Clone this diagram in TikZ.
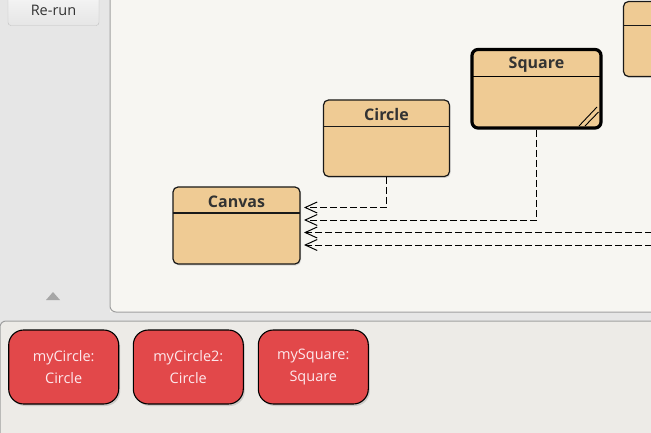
\documentclass[tikz,border=0pt]{standalone}
\usepackage{fontspec}
\setmainfont{Open Sans}
\usetikzlibrary{shadows,arrows.meta}
\definecolor{leftbg}{HTML}{E6E6E6}
\definecolor{canvasbg}{HTML}{F7F6F2}
\definecolor{bottombg}{HTML}{EDEBE7}
\definecolor{boxfill}{HTML}{EFCB94}
\definecolor{redfill}{HTML}{E2484A}
\definecolor{redtext}{HTML}{FDE8EC}
\definecolor{darktext}{HTML}{333333}
\definecolor{panelline}{HTML}{A0A0A0}
\tikzset{
  classbox/.style={draw=black!90, line width=1.2pt, fill=boxfill, rounded corners=5pt,
    drop shadow={shadow xshift=1pt, shadow yshift=-1.5pt, opacity=0.25}},
  selbox/.style={draw=black, line width=3.2pt, fill=boxfill, rounded corners=6pt,
    drop shadow={shadow xshift=1pt, shadow yshift=-1.5pt, opacity=0.25}},
  classtitle/.style={font=\bfseries\fontsize{16}{18}\selectfont, text=darktext},
  dep/.style={dash pattern=on 7pt off 3pt, line width=0.9pt,
    -{Straight Barb[length=12pt, width=11pt, line width=1pt]}},
  objbox/.style={draw=black, line width=1.1pt, fill=redfill, rounded corners=15pt,
    minimum width=110pt, minimum height=74pt, inner sep=0pt,
    text=redtext, align=center, font=\fontsize{14.5}{22}\selectfont,
    drop shadow={shadow xshift=1.5pt, shadow yshift=-2pt, opacity=0.3}},
}
\begin{document}
\begin{tikzpicture}[x=1pt, y=-1pt]
\useasboundingbox (0,0) rectangle (651,433);
% backgrounds
\fill[leftbg] (0,0) rectangle (651,433);
\fill[bottombg, draw=panelline, line width=1pt, rounded corners=6pt] (0,321) -- (0,440) -- (660,440) -- (660,321) -- cycle;
\fill[canvasbg] (110,-5) rectangle (660,312);
\draw[panelline, line width=1pt, rounded corners=6pt] (110,-5) -- (110,312) -- (660,312);
% Re-run button
\node[draw=black!25, rounded corners=3pt, minimum width=91pt, minimum height=30pt,
  inner sep=0pt, font=\fontsize{14.5}{16}\selectfont, text=darktext, top color=white!96!black, bottom color=black!10] (rerun) at (53.5,10.5) {Re-run};
% triangle
\fill[black!35] (46,300) -- (60,300) -- (53,292) -- cycle;
% partial box at right
\path[classbox] (623.5,1.5) rectangle (670,76.5);
\draw[black!90, line width=1.2pt] (623.5,25.5) -- (670,25.5);
% Canvas
\path[classbox] (173,187) rectangle (300,264);
\draw[black!90, line width=1.2pt] (173,213) -- (300,213);
\node[classtitle] (canvas) at (236.5,202) {Canvas};
% Circle
\path[classbox] (323.5,100) rectangle (449.5,176.5);
\draw[black!90, line width=1.2pt] (323.5,126.5) -- (449.5,126.5);
\node[classtitle] (circle) at (386.5,115) {Circle};
\coordinate (circleB) at (386.5,177);
% Square
\path[selbox] (472,49.5) rectangle (601,128);
\draw[black, line width=1.2pt] (472,76.5) -- (601,76.5);
\node[classtitle] (square) at (536.5,65) {Square};
\coordinate (squareB) at (536.7,130);
\draw[black, line width=0.9pt] (579,126) -- (597,107);
\draw[black, line width=0.9pt] (585,126) -- (598.5,112);
% connector ends
\coordinate (tip1) at (304,207.5);
\coordinate (tip2) at (304,220);
\coordinate (tip3) at (304,232.5);
\coordinate (tip4) at (304,245);
\coordinate (far3) at (652,232.5);
\coordinate (far4) at (652,245);
\draw[dep] (circleB) |- (tip1);
\draw[dep] (squareB) |- (tip2);
\draw[dep] (far3) -- (tip3);
\draw[dep] (far4) -- (tip4);
% object nodes
\node[objbox] (obj1) at (63.7,367) {myCircle:\\Circle};
\node[objbox] (obj2) at (188.3,367) {myCircle2:\\Circle};
\node[objbox] (obj3) at (313.3,367) {mySquare:\\Square};
\end{tikzpicture}
\end{document}
